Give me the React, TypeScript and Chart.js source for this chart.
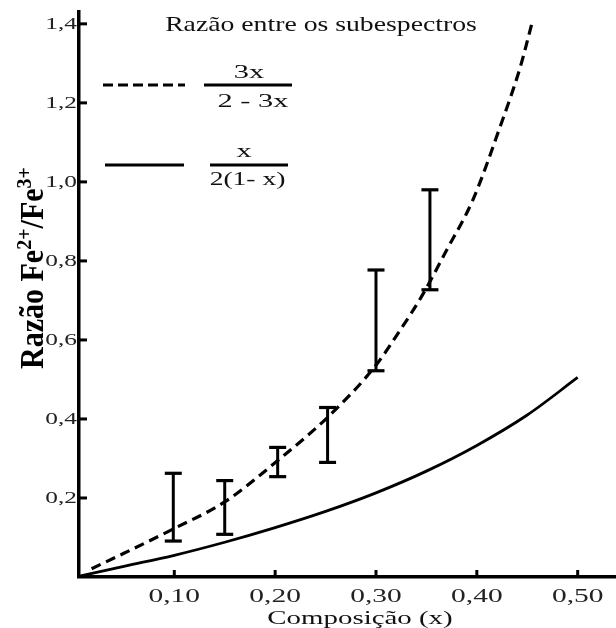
import React, { useEffect, useRef } from 'react';
import { Chart, registerables } from 'chart.js';

Chart.register(...registerables);

// ---- data ----
const DASHED_X = [0.018, 0.05, 0.10, 0.15, 0.205, 0.254, 0.30, 0.324, 0.345, 0.370, 0.396, 0.423, 0.443, 0.455];
const DASHED_Y = [0.021, 0.06, 0.123, 0.19, 0.30, 0.409, 0.536, 0.625, 0.709, 0.827, 0.954, 1.139, 1.29, 1.405];

const SOLID_X = [0.006, 0.05, 0.10, 0.15, 0.20, 0.25, 0.30, 0.35, 0.40, 0.45, 0.50];
const SOLID_Y = [0.002, 0.027, 0.055, 0.088, 0.125, 0.166, 0.213, 0.268, 0.333, 0.41, 0.505];

const ERR_X = [0.099, 0.15, 0.2025, 0.252, 0.30, 0.3535];
const ERR_LOW = [0.091, 0.108, 0.254, 0.290, 0.522, 0.727];
const ERR_HIGH = [0.2625, 0.244, 0.328, 0.429, 0.777, 0.980];

const X_TICKS = [0.1, 0.2, 0.3, 0.4, 0.5];
const X_TICK_LABELS = ['0,10', '0,20', '0,30', '0,40', '0,50'];
const Y_TICKS = [0.2, 0.4, 0.6, 0.8, 1.0, 1.2, 1.4];
const Y_TICK_LABELS = ['0,2', '0,4', '0,6', '0,8', '1,0', '1,2', '1,4'];

const TITLE = 'Razão entre os subespectros';
const X_TITLE = 'Composição (x)';
const Y_TITLE_PARTS = [
  { t: 'Razão Fe', sup: false },
  { t: '2+', sup: true },
  { t: '/Fe', sup: false },
  { t: '3+', sup: true },
];
const LEGEND_DASHED = ['3x', '2 - 3x'];
const LEGEND_SOLID = ['x', '2(1- x)'];

const FONT = '"Liberation Serif", "Times New Roman", serif';

function sText(ctx: CanvasRenderingContext2D, text: string, x: number, y: number, size: number, sx: number,
  align: CanvasTextAlign, baseline: CanvasTextBaseline, color = '#111') {
  ctx.save();
  ctx.translate(x, y);
  ctx.scale(sx, 1);
  ctx.font = `${size}px ${FONT}`;
  ctx.fillStyle = color;
  ctx.textAlign = align;
  ctx.textBaseline = baseline;
  ctx.fillText(text, 0, 0);
  ctx.restore();
}

function line(ctx: CanvasRenderingContext2D, x1: number, y1: number, x2: number, y2: number, w: number, dash: number[] = []) {
  ctx.save();
  ctx.strokeStyle = '#000';
  ctx.lineWidth = w;
  ctx.setLineDash(dash);
  ctx.beginPath();
  ctx.moveTo(x1, y1);
  ctx.lineTo(x2, y2);
  ctx.stroke();
  ctx.restore();
}

const overlay = {
  id: 'overlay',
  afterDatasetsDraw(chart: any) {
    const ctx: CanvasRenderingContext2D = chart.ctx;
    const xs = chart.scales.x;
    const ys = chart.scales.y;
    const area = chart.chartArea;
    // error bars
    for (let i = 0; i < ERR_X.length; i++) {
      const px = xs.getPixelForValue(ERR_X[i]);
      const pl = ys.getPixelForValue(ERR_LOW[i]);
      const ph = ys.getPixelForValue(ERR_HIGH[i]);
      line(ctx, px, ph, px, pl, 3);
      line(ctx, px - 8.5, ph, px + 8.5, ph, 3.2);
      line(ctx, px - 8.5, pl, px + 8.5, pl, 3.2);
    }
    // inward tick marks
    for (const v of Y_TICKS) {
      const py = ys.getPixelForValue(v);
      line(ctx, area.left, py, area.left + 8, py, 3);
    }
    for (const v of X_TICKS) {
      const px = xs.getPixelForValue(v);
      line(ctx, px, area.bottom, px, area.bottom - 7, 3);
    }
  },
  afterDraw(chart: any) {
    const ctx: CanvasRenderingContext2D = chart.ctx;
    const xs = chart.scales.x;
    const ys = chart.scales.y;
    const area = chart.chartArea;
    // tick labels
    Y_TICKS.forEach((v, i) => {
      sText(ctx, Y_TICK_LABELS[i], area.left - 2, ys.getPixelForValue(v) + 0.5, 17.5, 1.45, 'right', 'middle', '#222');
    });
    X_TICKS.forEach((v, i) => {
      sText(ctx, X_TICK_LABELS[i], xs.getPixelForValue(v), 602, 19, 1.55, 'center', 'alphabetic', '#222');
    });
    // axis title x
    sText(ctx, X_TITLE, 360, 624, 19, 1.52, 'center', 'alphabetic');
    // chart title
    sText(ctx, TITLE, 321, 31, 21, 1.32, 'center', 'alphabetic');

    // y axis title (rotated, bold, with superscripts)
    ctx.save();
    ctx.translate(43, 268);
    ctx.scale(1.1, 1);
    ctx.rotate(-Math.PI / 2);
    ctx.fillStyle = '#000';
    ctx.textBaseline = 'alphabetic';
    ctx.textAlign = 'left';
    const mainFont = `bold 30px ${FONT}`;
    const supFont = `bold 20px ${FONT}`;
    let total = 0;
    for (const p of Y_TITLE_PARTS) {
      ctx.font = p.sup ? supFont : mainFont;
      total += ctx.measureText(p.t).width;
    }
    let cx = -total / 2;
    for (const p of Y_TITLE_PARTS) {
      ctx.font = p.sup ? supFont : mainFont;
      ctx.fillText(p.t, cx, p.sup ? -11 : 0);
      cx += ctx.measureText(p.t).width;
    }
    ctx.restore();

    // legend
    line(ctx, 103, 85, 185, 85, 3, [10, 5]);
    line(ctx, 204, 85, 292, 85, 3);
    sText(ctx, LEGEND_DASHED[0], 249, 78, 19, 1.6, 'center', 'alphabetic');
    sText(ctx, LEGEND_DASHED[1], 253, 107, 19, 1.6, 'center', 'alphabetic');

    line(ctx, 105, 165, 184, 165, 3);
    line(ctx, 210, 165, 288, 165, 3);
    sText(ctx, LEGEND_SOLID[0], 244, 157, 19, 1.6, 'center', 'alphabetic');
    sText(ctx, LEGEND_SOLID[1], 247.5, 185, 19, 1.45, 'center', 'alphabetic');
  },
};

export default function App() {
  const ref = useRef<HTMLCanvasElement | null>(null);

  useEffect(() => {
    if (!ref.current) return;
    const chart = new Chart(ref.current, {
      type: 'scatter',
      data: {
        datasets: [
          {
            label: 'dashed',
            data: DASHED_X.map((x, i) => ({ x, y: DASHED_Y[i] })),
            showLine: true,
            borderColor: '#000',
            borderWidth: 3.2,
            borderDash: [10, 6],
            pointRadius: 0,
            cubicInterpolationMode: 'monotone',
          } as any,
          {
            label: 'solid',
            data: SOLID_X.map((x, i) => ({ x, y: SOLID_Y[i] })),
            showLine: true,
            borderColor: '#000',
            borderWidth: 2.8,
            pointRadius: 0,
            cubicInterpolationMode: 'monotone',
          } as any,
        ],
      },
      options: {
        animation: false,
        responsive: true,
        maintainAspectRatio: false,
        events: [],
        layout: { padding: { top: 12, right: 0, bottom: 0, left: 0 } },
        plugins: {
          legend: { display: false },
          tooltip: { enabled: false },
          title: { display: false },
        },
        scales: {
          x: {
            type: 'linear',
            min: 0.0055,
            max: 0.538,
            afterBuildTicks: (s: any) => { s.ticks = X_TICKS.map((v) => ({ value: v })); },
            afterFit: (s: any) => { s.height = 51; },
            ticks: { display: false },
            grid: { display: true, drawOnChartArea: false, drawTicks: false },
            border: { display: true, color: '#000', width: 3.5 },
          },
          y: {
            type: 'linear',
            min: 0,
            max: 1.43,
            afterBuildTicks: (s: any) => { s.ticks = Y_TICKS.map((v) => ({ value: v })); },
            afterFit: (s: any) => { s.width = 79; },
            ticks: { display: false },
            grid: { display: true, drawOnChartArea: false, drawTicks: false },
            border: { display: true, color: '#000', width: 3.5 },
          },
        },
      },
      plugins: [overlay],
    });
    return () => chart.destroy();
  }, []);

  return (
    <div style={{ position: 'fixed', left: 0, top: 0, width: 616, height: 628, background: '#fff' }}>
      <canvas ref={ref} />
    </div>
  );
}
